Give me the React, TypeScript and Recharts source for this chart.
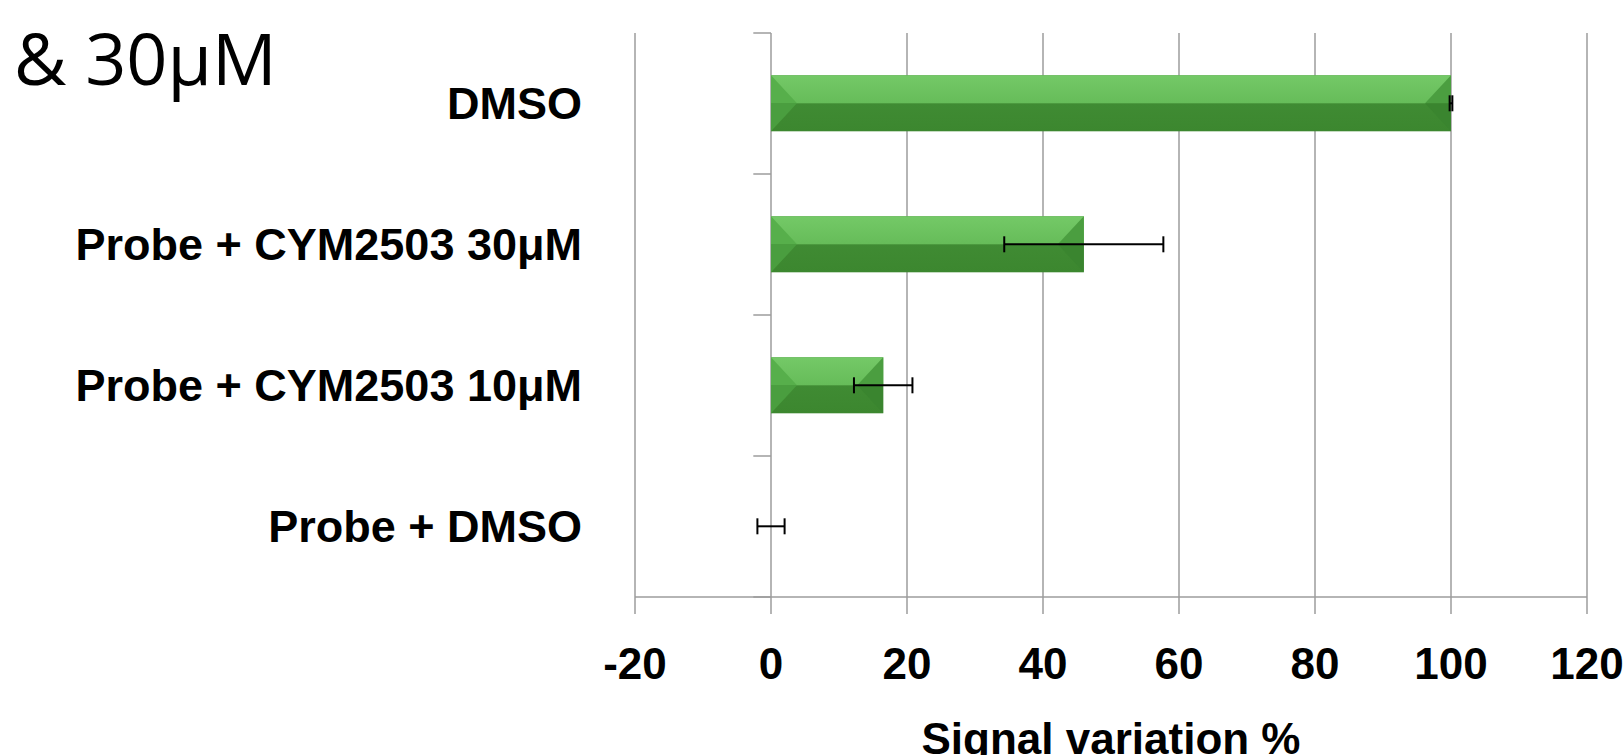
import {
  BarChart, Bar, XAxis, YAxis, CartesianGrid, ErrorBar, ReferenceLine,
} from 'recharts';

const categories = ['DMSO', 'Probe + CYM2503 30μM', 'Probe + CYM2503 10μM', 'Probe + DMSO'];
const signal = [100, 46, 16.5, 0];
const errors = [0.2, 11.7, 4.3, 2];
const xTicks = [-20, 0, 20, 40, 60, 80, 100, 120];
// category boundaries (for the little tick marks on the zero axis)
const separators = [0, 1, 2, 3, 4];

const data = categories.map((name, i) => ({ name, value: signal[i], err: errors[i], pos: i + 0.5 }));

const FONT = '"Liberation Sans", Arial, sans-serif';
const GRID = '#9c9c9c';

// Excel-like bevelled bar
const BevelBar = (props: any) => {
  const { x, y, width: w, height: h } = props;
  if (!w || w <= 0) return null;
  const b = Math.min(26, w / 2);
  const m = y + h / 2;
  return (
    <g>
      <rect x={x} y={y} width={w} height={h} fill="url(#barBottom)" />
      <rect x={x} y={y} width={w} height={h / 2} fill="url(#barTop)" />
      <polygon points={`${x},${y} ${x + b},${m} ${x},${m}`} fill="#57af4b" />
      <polygon points={`${x},${m} ${x + b},${m} ${x},${y + h}`} fill="#4a9e3f" />
      <polygon points={`${x + w},${y} ${x + w - b},${m} ${x + w},${m}`} fill="#4b9e40" />
      <polygon points={`${x + w},${m} ${x + w - b},${m} ${x + w},${y + h}`} fill="#3a852f" />
    </g>
  );
};

export default function App() {
  return (
    <div style={{ position: 'relative', width: 1624, height: 755, background: '#fff' }}>
      <style>{'body{margin:0}'}</style>
      <div
        style={{
          position: 'absolute', left: 14, top: 21, fontFamily: '"Open Sans", sans-serif',
          fontSize: 72, lineHeight: '72px', color: '#000', whiteSpace: 'nowrap',
        }}
      >
        & 30μM
      </div>
      <BarChart
        width={1624}
        height={755}
        data={data}
        layout="vertical"
        margin={{ top: 33, right: 37, left: 0, bottom: 0 }}
        barCategoryGap="30%"
      >
        <defs>
          <linearGradient id="barTop" x1="0" y1="0" x2="0" y2="1">
            <stop offset="0%" stopColor="#74c967" />
            <stop offset="100%" stopColor="#66bc59" />
          </linearGradient>
          <linearGradient id="barBottom" x1="0" y1="0" x2="0" y2="1">
            <stop offset="0%" stopColor="#438f37" />
            <stop offset="100%" stopColor="#3c872f" />
          </linearGradient>
        </defs>
        <CartesianGrid horizontal={false} stroke={GRID} strokeWidth={1.5} />
        <XAxis
          type="number"
          domain={[-20, 120]}
          ticks={xTicks}
          interval={0}
          height={158}
          axisLine={{ stroke: GRID, strokeWidth: 1.5 }}
          tickLine={{ stroke: GRID, strokeWidth: 1.5 }}
          tickSize={17}
          tickMargin={34}
          tick={{ fontFamily: FONT, fontSize: 44, fontWeight: 'bold', fill: '#000' }}
          label={{
            value: 'Signal variation %', position: 'insideBottom', offset: 1,
            style: { fontFamily: FONT, fontSize: 44, fontWeight: 'bold', fill: '#000' },
          }}
        />
        <YAxis
          type="category"
          dataKey="name"
          width={635}
          axisLine={false}
          tickLine={false}
          tickSize={0}
          tickMargin={53}
          tick={{ fontFamily: FONT, fontSize: 45, fontWeight: 'bold', fill: '#000' }}
        />
        <YAxis
          yAxisId="sep"
          type="number"
          dataKey="pos"
          domain={[0, 4]}
          ticks={separators}
          allowDataOverflow
          hide
        />
        {separators.map((s) => (
          <ReferenceLine
            key={s}
            yAxisId="sep"
            segment={[{ x: -2.6, y: s }, { x: 0, y: s }]}
            stroke={GRID}
            strokeWidth={1.5}
            ifOverflow="visible"
          />
        ))}
        <Bar dataKey="value" shape={<BevelBar />} isAnimationActive={false}>
          <ErrorBar dataKey="err" direction="x" width={8} stroke="#000" strokeWidth={2} />
        </Bar>
      </BarChart>
    </div>
  );
}
